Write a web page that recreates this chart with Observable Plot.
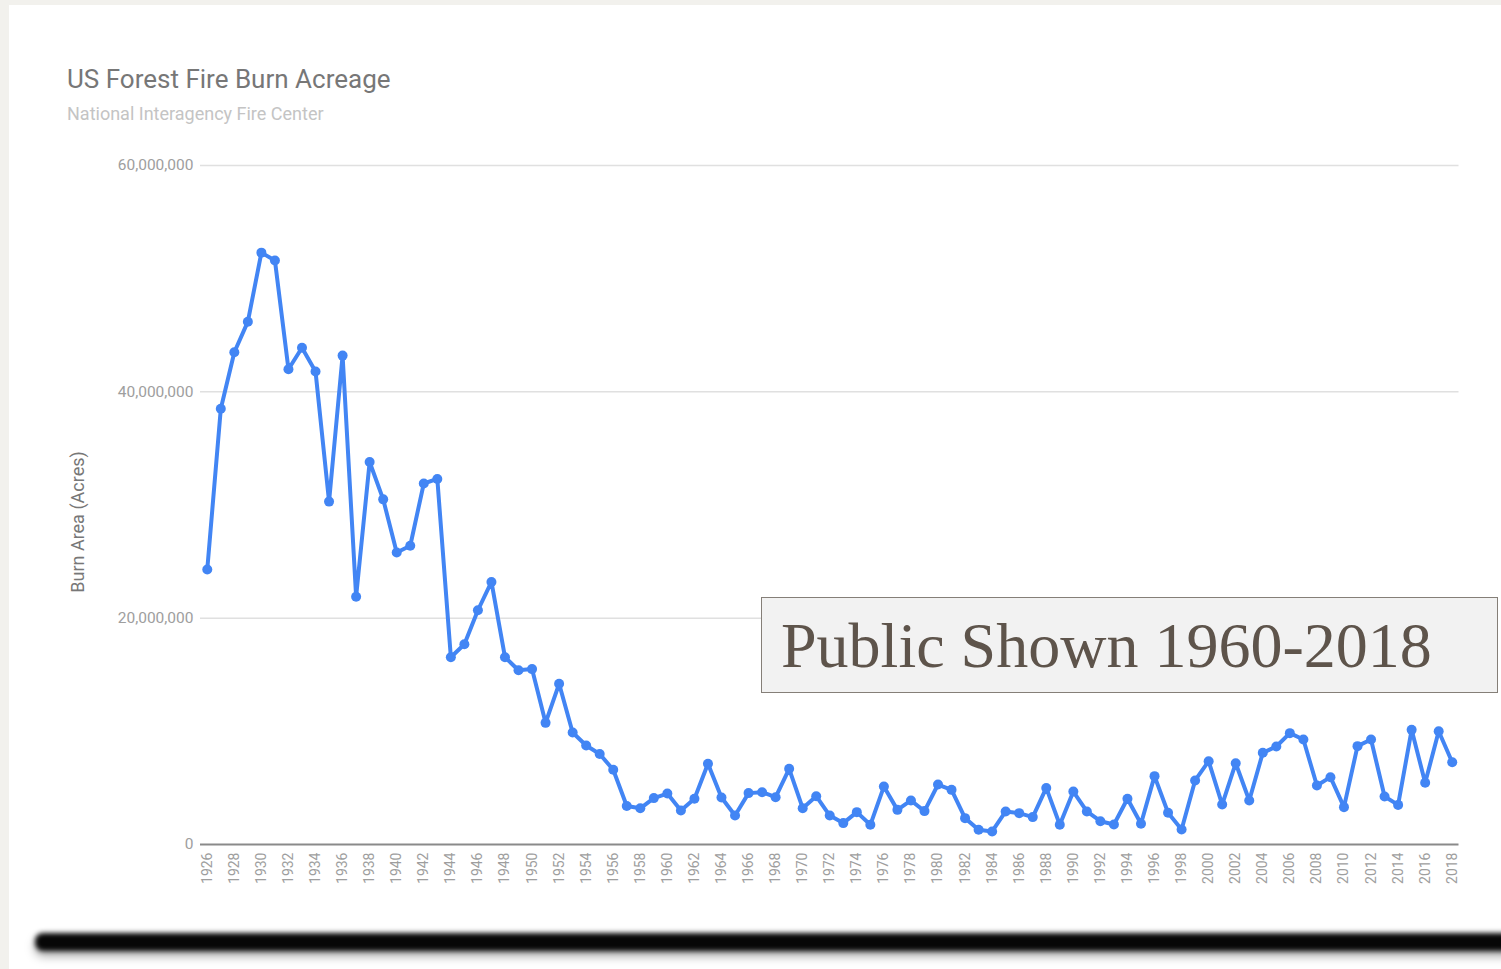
<!DOCTYPE html>
<html>
<head>
<meta charset="utf-8">
<script src="https://cdn.jsdelivr.net/npm/d3@7"></script>
<script src="https://cdn.jsdelivr.net/npm/@observablehq/plot@0.6"></script>
<style>
  html, body { margin: 0; padding: 0; background: #ffffff; overflow: hidden; }
  #page { position: relative; width: 1501px; height: 969px; background: #ffffff; font-family: Roboto, "Noto Sans", sans-serif; }
  #leftStrip { position: absolute; left: 0; top: 0; width: 9px; height: 969px; background: #f2f1ed; }
  #topStrip { position: absolute; left: 0; top: 0; width: 1501px; height: 5px; background: #f2f1ed; }
  #title { position: absolute; left: 67px; top: 66px; font-size: 26px; line-height: 1; color: #777777; white-space: nowrap; }
  #subtitle { position: absolute; left: 67px; top: 104.5px; font-size: 18px; line-height: 1; color: #c4c4c4; white-space: nowrap; }
  #ylabel { position: absolute; left: 78px; top: 522px; transform: translate(-50%, -50%) rotate(-90deg); font-size: 18px; line-height: 1; color: #777777; white-space: nowrap; }
  #chart { position: absolute; left: 0; top: 140px; }
  #note { position: absolute; left: 761px; top: 597px; width: 735px; height: 94px; background: #f2f2f2; border: 1.5px solid #857f78; }
  #noteText { position: absolute; left: 781px; top: 614.4px; font-family: "Liberation Serif", "Times New Roman", serif; font-size: 64px; line-height: 1; color: #5e544b; white-space: nowrap; }
  #shadow { position: absolute; left: 35px; top: 933px; width: 1500px; height: 18px; background: #070707; border-radius: 8px; filter: blur(2.5px); box-shadow: 0 5px 9px rgba(0,0,0,0.35); }
</style>
</head>
<body>
<div id="page">
  <div id="leftStrip"></div>
  <div id="topStrip"></div>
  <div id="title">US Forest Fire Burn Acreage</div>
  <div id="subtitle">National Interagency Fire Center</div>
  <div id="ylabel">Burn Area (Acres)</div>
  <div id="chart"></div>
  <div id="note"></div>
  <div id="noteText">Public Shown 1960-2018</div>
  <div id="shadow"></div>
</div>
<script>
const years = [1926,1927,1928,1929,1930,1931,1932,1933,1934,1935,1936,1937,1938,1939,1940,1941,1942,1943,1944,1945,1946,1947,1948,1949,1950,1951,1952,1953,1954,1955,1956,1957,1958,1959,1960,1961,1962,1963,1964,1965,1966,1967,1968,1969,1970,1971,1972,1973,1974,1975,1976,1977,1978,1979,1980,1981,1982,1983,1984,1985,1986,1987,1988,1989,1990,1991,1992,1993,1994,1995,1996,1997,1998,1999,2000,2001,2002,2003,2004,2005,2006,2007,2008,2009,2010,2011,2012,2013,2014,2015,2016,2017,2018];

const acres = [24300000,38500000,43500000,46200000,52300000,51600000,42000000,43900000,41800000,30300000,
  43200000,21900000,33800000,30500000,25800000,26400000,31900000,32300000,16550000,17700000,
  20700000,23200000,16550000,15400000,15500000,10750000,14200000,9900000,8750000,8000000,
  6600000,3400000,3200000,4100000,4500000,3000000,4050000,7130000,4150000,2560000,
  4540000,4620000,4180000,6690000,3210000,4270000,2560000,1890000,2860000,1740000,
  5120000,3060000,3890000,2950000,5300000,4830000,2330000,1300000,1150000,2920000,
  2770000,2420000,5000000,1750000,4680000,2920000,2060000,1770000,4040000,1830000,
  6040000,2800000,1330000,5660000,7360000,3530000,7180000,3890000,8100000,8660000,
  9840000,9280000,5210000,5950000,3300000,8690000,9280000,4240000,3500000,10130000,
  5450000,10010000,7270000];

const yTicks = [0, 20000000, 40000000, 60000000];
const xTicks = [1926,1928,1930,1932,1934,1936,1938,1940,1942,1944,1946,1948,1950,1952,1954,1956,1958,1960,1962,1964,1966,1968,1970,1972,1974,1976,1978,1980,1982,1984,1986,1988,1990,1992,1994,1996,1998,2000,2002,2004,2006,2008,2010,2012,2014,2016,2018];

const data = years.map((year, i) => ({year, acres: acres[i]}));

const chart = Plot.plot({
  width: 1501,
  height: 800,
  marginLeft: 200,
  marginRight: 42.5,
  marginTop: 25,
  marginBottom: 96,
  style: { background: "transparent", fontFamily: "Roboto, 'Noto Sans', sans-serif" },
  x: { domain: [1925.5, 2018.5] },
  y: { domain: [0, 60000000] },
  marks: [
    Plot.ruleY(yTicks.slice(1), { stroke: "#e0e0e0", strokeWidth: 1.5 }),
    Plot.ruleY([0], { stroke: "#8a8a8a", strokeWidth: 2 }),
    Plot.axisY({ ticks: yTicks, tickFormat: d3.format(","), tickSize: 0, tickPadding: 7, fontSize: 15.5, fill: "#9e9e9e", label: null }),
    Plot.axisX({ ticks: xTicks, tickFormat: d => String(d), tickRotate: -90, tickSize: 0, tickPadding: 8, fontSize: 14, fill: "#9e9e9e", label: null }),
    Plot.line(data, { x: "year", y: "acres", stroke: "#4285f4", strokeWidth: 4, strokeLinejoin: "round" }),
    Plot.dot(data, { x: "year", y: "acres", r: 5, fill: "#4285f4", stroke: "none" })
  ]
});
document.getElementById("chart").appendChild(chart);
</script>
</body>
</html>
